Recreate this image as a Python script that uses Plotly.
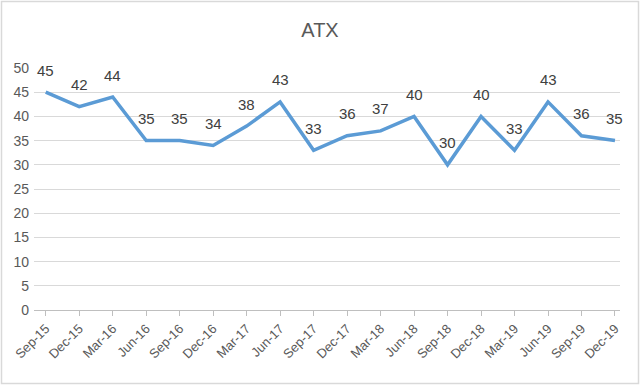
import plotly.graph_objects as go

categories = ["Sep-15", "Dec-15", "Mar-16", "Jun-16", "Sep-16", "Dec-16", "Mar-17", "Jun-17",
              "Sep-17", "Dec-17", "Mar-18", "Jun-18", "Sep-18", "Dec-18", "Mar-19", "Jun-19",
              "Sep-19", "Dec-19"]
values = [45, 42, 44, 35, 35, 34, 38, 43, 33, 36, 37, 40, 30, 40, 33, 43, 36, 35]
y_ticks = [0, 5, 10, 15, 20, 25, 30, 35, 40, 45, 50]

L, R, T, B = 34, 20, 68, 75
W, H = 640, 385
pw, ph = W - L - R, H - T - B

fig = go.Figure()
fig.add_trace(go.Scatter(
    x=list(range(len(categories))), y=values, mode="lines",
    line=dict(color="#5b9bd5", width=3.5), showlegend=False, hoverinfo="skip",
))
for i, v in enumerate(values):
    fig.add_annotation(x=i, y=v, text=str(v), showarrow=False, yshift=22,
                       font=dict(size=15, color="#404040"))
fig.update_layout(
    width=W, height=H,
    margin=dict(l=L, r=R, t=T, b=B, autoexpand=False),
    paper_bgcolor="white", plot_bgcolor="white",
    font=dict(family="Liberation Sans, Arial, sans-serif", color="#595959"),
    title=dict(text="ATX", x=0.5, xanchor="center", y=1 - 30 / H, yanchor="middle",
               font=dict(size=20, color="#595959")),
    xaxis=dict(
        tickmode="array", tickvals=list(range(len(categories))), ticktext=categories,
        range=[-0.35, 17.15], tickangle=-45, tickfont=dict(size=13, color="#595959"),
        showgrid=False, showline=True, linecolor="#bfbfbf", linewidth=1,
        ticks="outside", tickcolor="#bfbfbf", ticklen=5, zeroline=False, automargin=False,
    ),
    yaxis=dict(
        range=[0, 50], tickmode="array", tickvals=y_ticks,
        tickfont=dict(size=14, color="#595959"),
        showgrid=True, gridcolor="#d9d9d9", gridwidth=1, zeroline=False,
        showline=False, ticks="", ticklabelstandoff=4, automargin=False,
    ),
    shapes=[dict(type="rect", xref="paper", yref="paper",
                 x0=-(L - 1.5) / pw, y0=-(B - 1.5) / ph,
                 x1=1 + (R - 1.5) / pw, y1=1 + (T - 1.5) / ph,
                 line=dict(color="#d9d9d9", width=1.5))],
)
fig.write_html("out.html", config={"displayModeBar": False},
               post_script="document.body.style.margin='0';document.body.style.overflow='hidden';")
